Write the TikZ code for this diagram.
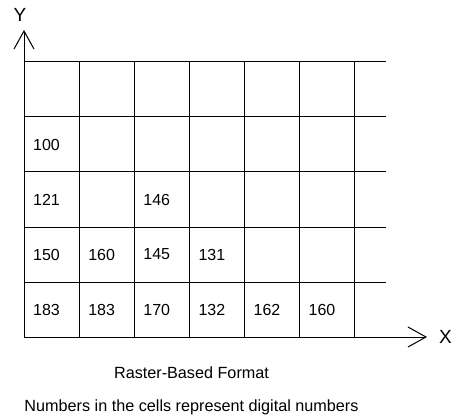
\documentclass[tikz,border=0pt]{standalone}
\usepackage{fontspec}
\setmainfont{Liberation Sans}
\usepackage{tikz}
\usetikzlibrary{positioning, arrows.meta}

\begin{document}
\begin{tikzpicture}[x=1pt, y=1pt, every node/.style={inner sep=0pt},
  gridline/.style={line width=1pt},
  axis/.style={line width=1pt, -{Straight Barb[length=18pt, width=20pt, line width=1pt]}},
  val/.style={font=\fontsize{16}{18}\selectfont, anchor=west},
  axlabel/.style={font=\fontsize{19}{22}\selectfont},
  caption/.style={font=\fontsize{16.2}{19}\selectfont}]
\useasboundingbox (0,0) rectangle (457,418);
\coordinate (O) at (24,81);
\coordinate (ytip) at (24,388);
\coordinate (xtip) at (427,81);

% grid
\foreach \r in {1,...,5}
  \draw[gridline] ([yshift=55*\r]O) -- ++(362,0);
\foreach \c in {1,...,6}
  \draw[gridline] ([xshift=55.1*\c]O) -- ++(0,275);

% axes
\draw[axis] (O) -- (ytip);
\draw[axis] (O) -- (xtip);
\node[axlabel] (Y) at (20,403) {Y};
\node[axlabel, right=12pt of xtip] (X) {X};

% cell values, row by row from the bottom
\foreach \v [count=\c from 0] in {183,183,170,132,162,160}
  \node[val] (r0c\c) at ([xshift=55.1*\c+9, yshift=27.5]O) {\v};
\foreach \v [count=\c from 0] in {150,160,145,131}
  \node[val] (r1c\c) at ([xshift=55.1*\c+9, yshift=82.5]O) {\v};
\node[val] (r2c0) at ([xshift=9, yshift=137.5]O) {121};
\node[val] (r2c2) at ([xshift=119.2, yshift=137.5]O) {146};
\node[val] (r3c0) at ([xshift=9, yshift=192.5]O) {100};

\node[caption] (title) at (191.5,45) {Raster-Based Format};
\node[caption] (note) at (191.5,11)
  {Numbers in the cells represent digital numbers};
\end{tikzpicture}
\end{document}
